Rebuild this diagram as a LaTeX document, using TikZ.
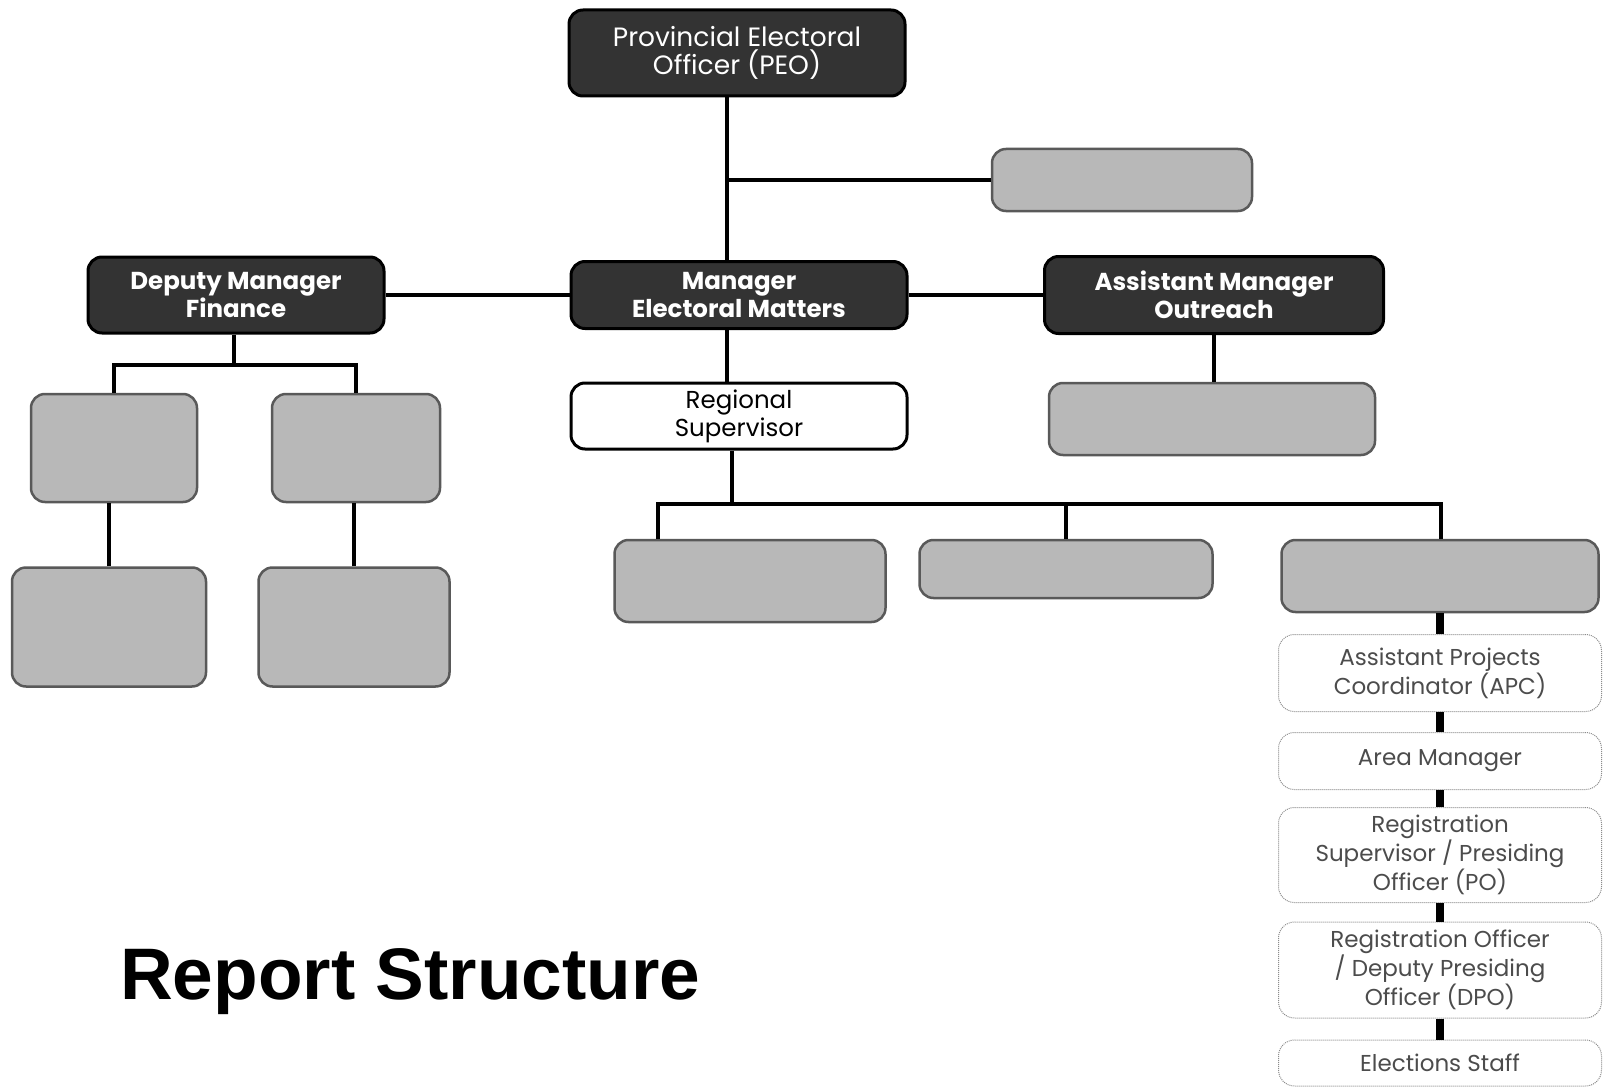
\documentclass[tikz,border=0pt]{standalone}
\usepackage{fontspec}
\usepackage{tikz}
\usetikzlibrary{positioning}
\newfontfamily\orgfont{Poppins}
\newfontfamily\headfont{Liberation Sans}
\tikzset{
	x=1pt, y=-1pt,
	link/.style={line width=4pt, black},
	stub/.style={line width=8pt, black},
	darkbox/.style={rounded corners=14pt, draw=black, line width=3pt, fill=black!80,
		text=white, align=center, inner sep=0pt,
		font=\orgfont\bfseries\fontsize{24.5}{28}\selectfont},
	openbox/.style={rounded corners=14pt, draw=black, line width=3pt, fill=white,
		align=center, inner sep=0pt, font=\orgfont\fontsize{24.5}{28}\selectfont},
	greybox/.style={rounded corners=14pt, draw=black!65, line width=2.5pt, fill=black!28, inner sep=0pt},
	chainbox/.style={rounded corners=16pt, draw=black!45, densely dotted, line width=1pt,
		text=black!70, align=center, inner sep=0pt,
		font=\orgfont\fontsize{23}{29}\selectfont},
}
\begin{document}
\begin{tikzpicture}
	\useasboundingbox[fill=white] (0,0) rectangle (1612,1089);

	% top of the tree
	\node[darkbox, font=\orgfont\fontsize{26.5}{28}\selectfont, minimum width=336, minimum height=86] (peo) at (737,53) {Provincial Electoral\\Officer (PEO)};
	\node[greybox, minimum width=260, minimum height=62] (g0) at (1122,180) {};
	\node[darkbox, minimum width=336, minimum height=67] (mem) at (739,295) {Manager\\Electoral Matters};
	\node[darkbox, minimum width=296, minimum height=76] (dmf) at (236,295) {Deputy Manager\\Finance};
	\node[darkbox, minimum width=339, minimum height=77] (amo) at (1214,295) {Assistant Manager\\Outreach};
	\node[openbox, minimum width=336, minimum height=66] (rs) at (739,416) {Regional\\Supervisor};

	% finance side
	\node[greybox, minimum width=166, minimum height=108] (f1) at (114,448) {};
	\node[greybox, minimum width=168, minimum height=108] (f2) at (356,448) {};
	\node[greybox, minimum width=194, minimum height=119] (f3) at (109,627) {};
	\node[greybox, minimum width=191, minimum height=119] (f4) at (354,627) {};

	% outreach side
	\node[greybox, minimum width=326, minimum height=72] (o1) at (1212,419) {};

	% regional side
	\node[greybox, minimum width=271, minimum height=82] (r1) at (750,581) {};
	\node[greybox, minimum width=293, minimum height=58] (r2) at (1066,569) {};
	\node[greybox, minimum width=317, minimum height=72] (r3) at (1440,576) {};

	\node[chainbox, minimum width=323, minimum height=77] (c1) at (1440,673) {Assistant Projects\\Coordinator (APC)};
	\node[chainbox, minimum width=323, minimum height=57] (c2) at (1440,761) {Area Manager};
	\node[chainbox, minimum width=323, minimum height=95] (c3) at (1440,855) {Registration\\Supervisor / Presiding\\Officer (PO)};
	\node[chainbox, minimum width=323, minimum height=96] (c4) at (1440,970) {Registration Officer\\/ Deputy Presiding\\Officer (DPO)};
	\node[chainbox, minimum width=323, minimum height=46] (c5) at (1440,1063) {Elections Staff};

	\node[anchor=base west, inner sep=0pt, font=\headfont\bfseries\fontsize{73}{86}\selectfont] (title) at (120,999) {Report Structure};

	% connectors
	\coordinate (spine) at (727,0);
	\coordinate (fbar) at (234,365);
	\coordinate (rbar) at (732,504);
	\coordinate (rl) at (658,504);
	\coordinate (rr) at (1441,504);

	\draw[link] (peo.south -| spine) -- (mem.north -| spine);
	\draw[link] (g0.west) -- (g0.west -| spine);
	\draw[link] (dmf) -- (mem);
	\draw[link] (mem) -- (amo);
	\draw[link] (mem.south -| spine) -- (rs.north -| spine);
	\draw[link] (amo.south) -- (amo.south |- o1.north);
	\draw[link] (dmf.south -| fbar) -- (fbar);
	\draw[link] (f1.north) |- (fbar) -| (f2.north);
	\draw[link] (f3.north) -- (f3.north |- f1.south);
	\draw[link] (f4.north) -- (f4.north |- f2.south);
	\draw[link] (rs.south -| rbar) -- (rbar);
	\draw[link] (rl |- r1.north) -- (rl) -- (rr) -- (rr |- r3.north);
	\draw[link] (r2.north) -- (r2.north |- rbar);

	\draw[stub] (r3) edge (c1)
		(c1) edge (c2)
		(c2) edge (c3)
		(c3) edge (c4)
		(c4) edge (c5);
\end{tikzpicture}
\end{document}
